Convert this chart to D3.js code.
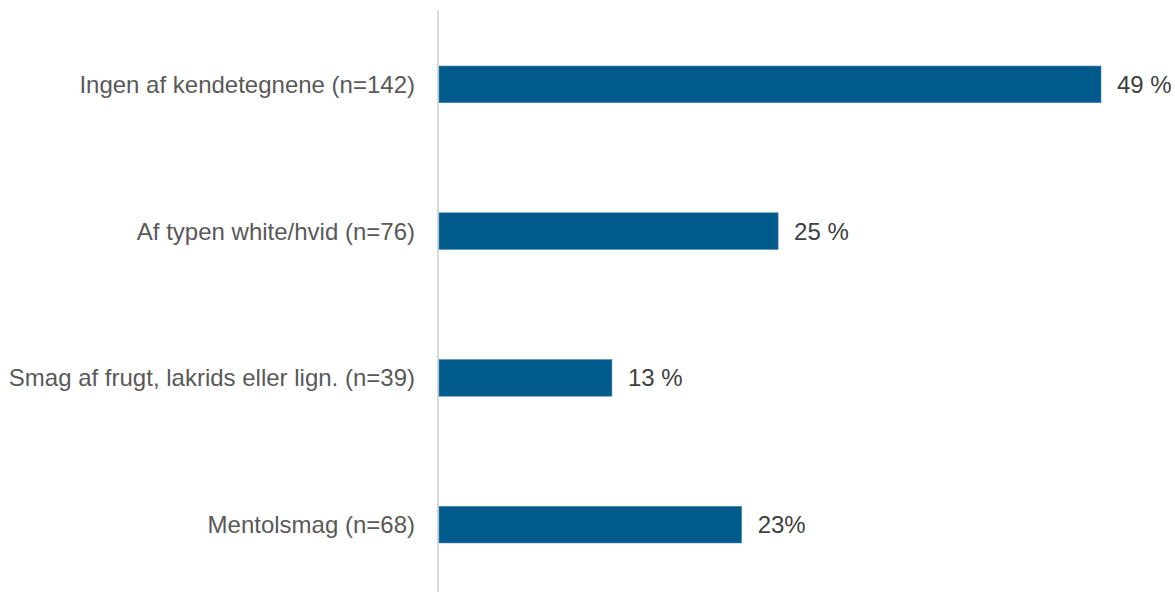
<!DOCTYPE html>
<html>
<head>
<meta charset="utf-8">
<script src="https://cdn.jsdelivr.net/npm/d3@7"></script>
<style>
  body { margin: 0; background: white; }
</style>
</head>
<body>
<div id="container"></div>
<script>
let w = 1175;
let h = 592;

// data
let categories = [
  "Ingen af kendetegnene (n=142)",
  "Af typen white/hvid (n=76)",
  "Smag af frugt, lakrids eller lign. (n=39)",
  "Mentolsmag (n=68)"
];
let values = [49, 25.1, 12.8, 22.4];
let valueLabels = ["49 %", "25 %", "13 %", "23%"];

let axisX = 438;
let axisTop = 10;

let viz = d3.select("#container")
  .append("svg")
    .attr("width", w)
    .attr("height", h)
    .style("background-color", "white")
;

let yScale = d3.scaleBand()
  .domain(categories)
  .range([11, 598])
  .paddingInner(0.75)
  .paddingOuter(0.375);

let xScale = d3.scaleLinear()
  .domain([0, 49])
  .range([axisX + 1, 1101]);

// axis line
viz.append("line")
  .attr("x1", axisX)
  .attr("x2", axisX)
  .attr("y1", axisTop)
  .attr("y2", h)
  .attr("stroke", "#d9d9d9")
  .attr("stroke-width", 2);

let rows = viz.selectAll(".row").data(categories).enter()
  .append("g")
    .classed("row", true);

rows.append("rect")
  .attr("x", xScale(0))
  .attr("y", d => yScale(d))
  .attr("width", (d, i) => xScale(values[i]) - xScale(0))
  .attr("height", yScale.bandwidth())
  .attr("fill", "#005b8c")
  .attr("stroke", "#4a8ab4")
  .attr("stroke-width", 0.6);

rows.append("text")
  .attr("x", axisX - 23)
  .attr("y", d => yScale(d) + yScale.bandwidth() / 2)
  .attr("dy", "0.35em")
  .attr("text-anchor", "end")
  .style("font-family", "Liberation Sans, Arial, sans-serif")
  .style("font-size", "24px")
  .style("fill", "#595959")
  .text(d => d);

rows.append("text")
  .attr("x", (d, i) => xScale(values[i]) + 16)
  .attr("y", d => yScale(d) + yScale.bandwidth() / 2)
  .attr("dy", "0.35em")
  .style("font-family", "Liberation Sans, Arial, sans-serif")
  .style("font-size", "24px")
  .style("fill", "#404040")
  .text((d, i) => valueLabels[i]);
</script>
</body>
</html>
